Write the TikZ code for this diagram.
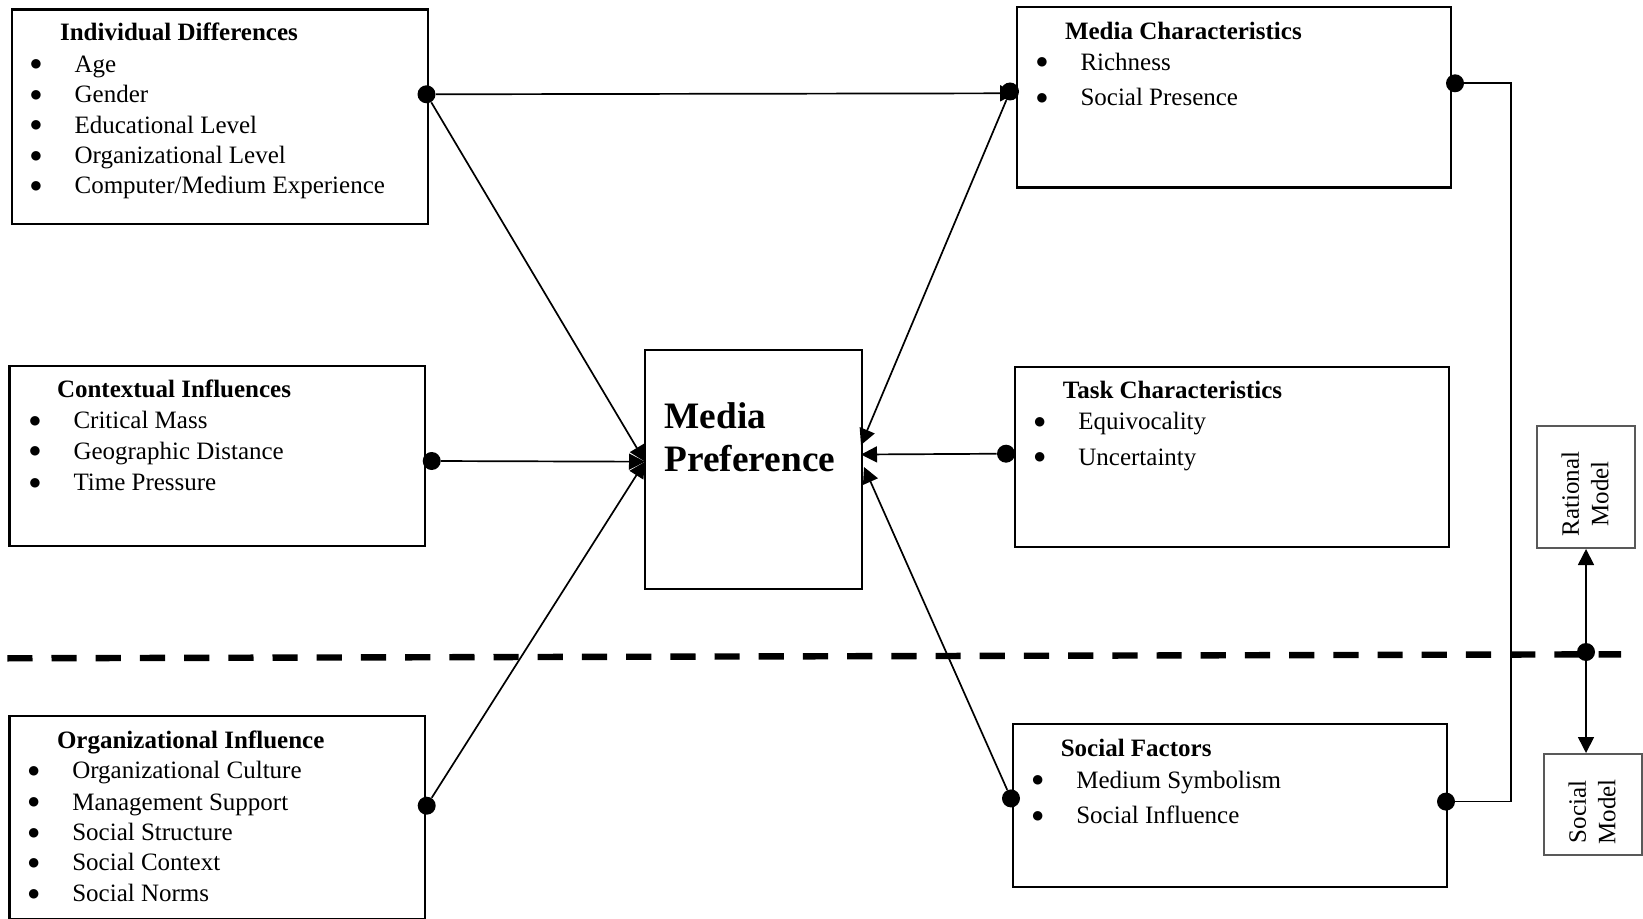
\documentclass[tikz,border=0pt]{standalone}
\usepackage{fontspec}
\setmainfont{Liberation Serif}
\newfontfamily\bulletfont{DejaVu Sans}
\usetikzlibrary{arrows.meta, positioning}

\begin{document}
\begin{tikzpicture}[x=0.5pt, y=-0.5pt,
        box/.style={draw, line width=1.1pt, anchor=north west, inner sep=0pt},
        modelbox/.style={draw=black!65, line width=1pt, anchor=north west, inner sep=0pt},
        heading/.style={anchor=base west, inner sep=0pt, font=\fontsize{12.5}{15}\selectfont\bfseries},
        item/.style={anchor=base west, inner sep=0pt, font=\fontsize{12.5}{15}\selectfont,
            execute at begin node={\makebox[22pt][l]{\raisebox{2.2pt}{\bulletfont\fontsize{6.2}{6.2}\selectfont ●}}}},
        dot/.style={circle, fill, inner sep=0pt, minimum size=9pt},
        link/.style={line width=0.85pt, -{Triangle[length=8pt, width=8pt]}},
        wire/.style={line width=0.85pt}]
        \useasboundingbox (0,0) rectangle (1643,919);

        % Boxes
        \node[box, minimum width=208pt, minimum height=107.3pt] (ind) at (10.5,8.4) {};
        \node[box, minimum width=207.8pt, minimum height=90.2pt] (ctx) at (8.4,364.6) {};
        \node[box, minimum width=207.8pt, minimum height=101.5pt] (org) at (8.4,714.6) {};
        \node[box, minimum width=108.5pt, minimum height=119.5pt] (pref) at (644,349) {};
        \node[box, minimum width=217pt, minimum height=90.1pt] (mch) at (1016,6.3) {};
        \node[box, minimum width=217pt, minimum height=90.2pt] (task) at (1014,365.7) {};
        \node[box, minimum width=217pt, minimum height=81.5pt] (soc) at (1012,723) {};
        \node[modelbox, minimum width=49pt, minimum height=61pt] (rat) at (1536,425) {};
        \node[modelbox, minimum width=49pt, minimum height=50.5pt] (smod) at (1543,753) {};

        % Individual differences
        \node[heading] (indT) at (59.7,40.9) {Individual Differences};
        \node[item] (ind1) at (30.2,72.3) {Age};
        \node[item] (ind2) at (30.2,102.7) {Gender};
        \node[item] (ind3) at (30.2,133.1) {Educational Level};
        \node[item] (ind4) at (30.2,163.5) {Organizational Level};
        \node[item] (ind5) at (30.2,193.9) {Computer/Medium Experience};

        % Contextual influences
        \node[heading] (ctxT) at (56.6,398) {Contextual Influences};
        \node[item] (ctx1) at (29.1,428.6) {Critical Mass};
        \node[item] (ctx2) at (29.1,459) {Geographic Distance};
        \node[item] (ctx3) at (29.1,490.4) {Time Pressure};

        % Organizational influence
        \node[heading] (orgT) at (56.6,748) {Organizational Influence};
        \node[item] (org1) at (27.9,778.5) {Organizational Culture};
        \node[item] (org2) at (27.9,810) {Management Support};
        \node[item] (org3) at (27.9,840.4) {Social Structure};
        \node[item] (org4) at (27.9,870.7) {Social Context};
        \node[item] (org5) at (27.9,901.4) {Social Norms};

        % Media characteristics
        \node[heading] (mchT) at (1064.6,39.5) {Media Characteristics};
        \node[item] (mch1) at (1036.1,70.2) {Richness};
        \node[item] (mch2) at (1036.1,105.8) {Social Presence};

        % Task characteristics
        \node[heading] (taskT) at (1062.5,399) {Task Characteristics};
        \node[item] (task1) at (1034,429.6) {Equivocality};
        \node[item] (task2) at (1034,465.2) {Uncertainty};

        % Social factors
        \node[heading] (socT) at (1060.4,756.3) {Social Factors};
        \node[item] (soc1) at (1031.9,788) {Medium Symbolism};
        \node[item] (soc2) at (1031.9,823.6) {Social Influence};

        % Centre
        \node[anchor=west, align=left, inner sep=0pt, font=\fontsize{18.65}{21.5}\selectfont\bfseries]
            (prefT) at (664.3,437) {Media\\Preference};

        % Models
        \node[rotate=90, align=center, inner sep=0pt, font=\fontsize{12.5}{14.7}\selectfont]
            (ratT) at (1585,494) {Rational\\Model};
        \node[rotate=90, align=center, inner sep=0pt, font=\fontsize{12.5}{14.7}\selectfont]
            (smodT) at (1592,812) {Social\\Model};

        % Divider
        \draw[line width=3.2pt, dash pattern=on 12.6pt off 9.5pt] (7.3,658.3) -- (1621,654.3);

        % Dots
        \node[dot] (indR) at (426.5,94.3) {};
        \node[dot] (ctxR) at (431.7,461) {};
        \node[dot] (orgR) at (426.7,805.7) {};
        \node[dot] (mchL) at (1010,91.5) {};
        \node[dot] (mchR) at (1455,83.3) {};
        \node[dot] (taskL) at (1006,453.7) {};
        \node[dot] (socL) at (1011,798.4) {};
        \node[dot] (socR) at (1446,801.6) {};
        \node[dot] (split) at (1586,652) {};

        % Arrow ends
        \coordinate (inL) at (645,461.7);
        \coordinate (inMch) at (861,445);
        \coordinate (inTask) at (861,454.5);
        \coordinate (inSoc) at (864,467);
        \coordinate (mchIn) at (1016,93.3);
        \coordinate (bend) at (1511,83.3);

        % Connectors
        \draw[link] (indR) -- (mchIn);
        \draw[link] (indR) -- (inL);
        \draw[link] (ctxR) -- (inL);
        \draw[link] (orgR) -- (inL);
        \draw[link] (mchL) -- (inMch);
        \draw[link] (taskL) -- (inTask);
        \draw[link] (socL) -- (inSoc);
        \draw[wire] (mchR) -- (bend) |- (socR);
        \draw[link] (split) -- (split |- rat.south);
        \draw[link] (split) -- (split |- smod.north);
\end{tikzpicture}
\end{document}
